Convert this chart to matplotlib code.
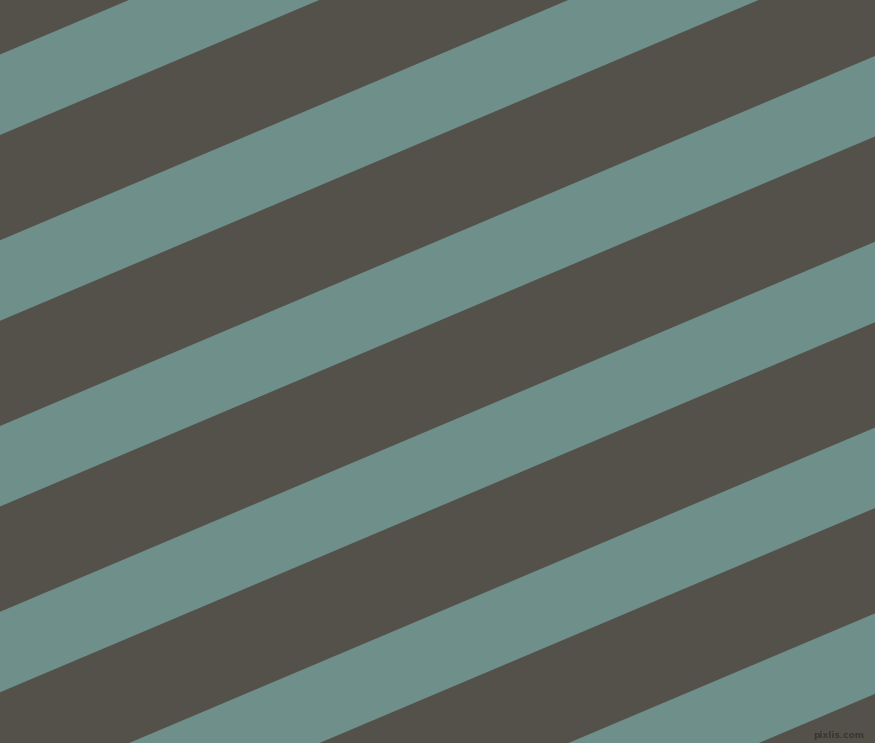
import matplotlib
matplotlib.use("Agg")
import matplotlib.pyplot as plt
from matplotlib.patches import Polygon

# Image geometry (pixels)
width_px = 875
height_px = 743

# Stripe parameters
band_top_at_left = [54.5, 240.3, 426.0, 611.8, 797.6, 983.4]  # y of teal band top edge at x=0
band_thickness = 80.5        # vertical thickness of teal band
rise_per_px = 0.4229         # vertical rise per horizontal pixel

dark_color = "#54504a"
stripe_color = "#6f8f8a"
watermark = "pixlis.com"

fig = plt.figure(figsize=(width_px / 100, height_px / 100), dpi=100)
ax = fig.add_axes([0, 0, 1, 1])
ax.set_xlim(0, width_px)
ax.set_ylim(height_px, 0)
ax.set_facecolor(dark_color)
fig.patch.set_facecolor(dark_color)
ax.axis("off")

for c in band_top_at_left:
    x0, x1 = -10, width_px + 10
    pts = [
        (x0, c - rise_per_px * x0),
        (x1, c - rise_per_px * x1),
        (x1, c + band_thickness - rise_per_px * x1),
        (x0, c + band_thickness - rise_per_px * x0),
    ]
    ax.add_patch(Polygon(pts, closed=True, facecolor=stripe_color,
                         edgecolor="none", antialiased=True))

ax.text(width_px - 11, height_px - 8, watermark, fontsize=6.5,
        color="#3a3632", ha="right", va="center", fontweight="bold")

fig.savefig("out.png", dpi=100, facecolor=dark_color)
